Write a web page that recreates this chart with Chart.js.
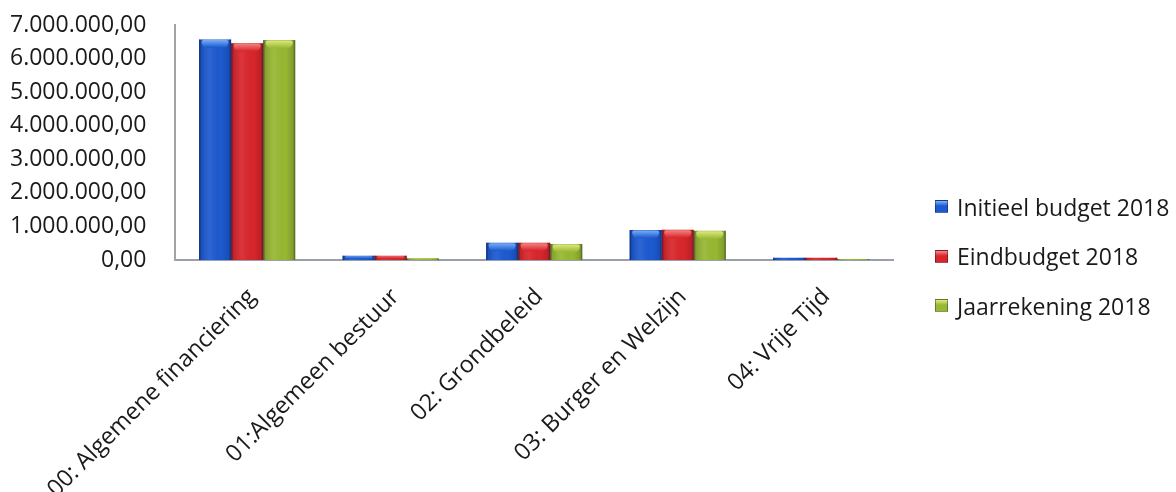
<!DOCTYPE html>
<html lang="nl">
<head>
<meta charset="utf-8">
<title>Budget 2018 per beleidsdomein</title>
<script src="https://cdn.jsdelivr.net/npm/chart.js@4.4.1/dist/chart.umd.min.js"></script>
<style>
  html, body { margin: 0; padding: 0; background: #ffffff; }
  #wrap { position: relative; width: 1176px; height: 492px; overflow: hidden; }
  #legend {
    position: absolute; left: 935px; top: 182px;
    font-family: 'Open Sans', sans-serif; font-size: 23px; color: #1a1a1a;
  }
  #legend .item { height: 49.5px; display: flex; align-items: center; white-space: nowrap; }
  #legend .box { width: 13px; height: 13px; margin-right: 9px; box-sizing: border-box; }
</style>
</head>
<body>
<div id="wrap">
  <canvas id="chart" width="1176" height="492"></canvas>
  <div id="legend"></div>
</div>
<script>
// Beleidsdomeinen (categorieën)
const categories = [
  '00: Algemene financiering',
  '01:Algemeen bestuur',
  '02: Grondbeleid',
  '03: Burger en Welzijn',
  '04: Vrije Tijd'
];

// Reeksen
const seriesNames = ['Initieel budget 2018', 'Eindbudget 2018', 'Jaarrekening 2018'];
const initieelBudget = [6570000, 130000, 515000, 895000, 70000];
const eindBudget     = [6460000, 130000, 515000, 900000, 70000];
const jaarrekening   = [6550000,  50000, 477000, 870000, 30000];

// Waardeas
const yTickValues = [0, 1000000, 2000000, 3000000, 4000000, 5000000, 6000000, 7000000];
const yTickLabels = ['0,00', '1.000.000,00', '2.000.000,00', '3.000.000,00',
                     '4.000.000,00', '5.000.000,00', '6.000.000,00', '7.000.000,00'];

// Stijl
const bodyColors = ['#1d5ad0', '#d8262b', '#97b832'];
const capColors  = ['#7fb4f6', '#f58a8a', '#e2ea84'];
const FONT = "'Open Sans', sans-serif";
const TEXT = '#1a1a1a';

// Glanzend, licht bol uiterlijk van de staven
const bevelBars = {
  id: 'bevelBars',
  afterDatasetsDraw(chart) {
    const ctx = chart.ctx;
    chart.data.datasets.forEach((ds, di) => {
      const meta = chart.getDatasetMeta(di);
      if (meta.hidden) return;
      meta.data.forEach(bar => {
        const p = bar.getProps(['x', 'y', 'base', 'width'], true);
        const left = p.x - p.width / 2;
        const top = Math.min(p.y, p.base);
        const h = Math.abs(p.base - p.y);
        if (h <= 0) return;
        ctx.save();
        const g = ctx.createLinearGradient(left, 0, left + p.width, 0);
        g.addColorStop(0, 'rgba(0,0,25,0.55)');
        g.addColorStop(0.07, 'rgba(0,0,25,0.12)');
        g.addColorStop(0.35, 'rgba(255,255,255,0.07)');
        g.addColorStop(0.7, 'rgba(0,0,0,0)');
        g.addColorStop(0.93, 'rgba(0,0,25,0.14)');
        g.addColorStop(1, 'rgba(0,0,25,0.5)');
        ctx.fillStyle = g;
        ctx.fillRect(left, top, p.width, h);

        const capH = Math.min(8, h * 0.6);
        if (capH > 1.5) {
          const cg = ctx.createLinearGradient(0, top, 0, top + capH);
          cg.addColorStop(0, capColors[di]);
          cg.addColorStop(1, bodyColors[di]);
          ctx.fillStyle = cg;
          ctx.beginPath();
          const inset = 2.5;
          ctx.roundRect(left + inset, top + 0.5, p.width - inset * 2, capH,
                        [2, 2, Math.min(6, capH), Math.min(6, capH)]);
          ctx.fill();
        }
        ctx.restore();
      });
    });
  }
};

const datasets = [initieelBudget, eindBudget, jaarrekening].map((values, i) => ({
  label: seriesNames[i],
  data: values,
  backgroundColor: bodyColors[i],
  borderWidth: 0,
  categoryPercentage: 0.67,
  barPercentage: 1.0
}));

const chart = new Chart(document.getElementById('chart'), {
  type: 'bar',
  data: { labels: categories, datasets },
  options: {
    responsive: false,
    animation: false,
    devicePixelRatio: 1,
    layout: { padding: { left: 10, right: 283, top: 25, bottom: 0 } },
    plugins: {
      legend: { display: false },
      tooltip: { enabled: false }
    },
    scales: {
      x: {
        afterFit(scale) {
          // vaste strook voor de schuine labels; ze mogen links buiten het plotvlak uitsteken
          scale.height = 232;
          scale.paddingLeft = 0;
          scale.paddingRight = 0;
        },
        ticks: {
          autoSkip: false,
          minRotation: 45,
          maxRotation: 45,
          padding: 23,
          labelOffset: 5,
          color: TEXT,
          font: { family: FONT, size: 23.5 }
        },
        grid: { display: false, drawTicks: false },
        border: { display: true, color: '#9aa0ab', width: 2 }
      },
      y: {
        min: 0,
        max: 7000000,
        afterBuildTicks(scale) {
          scale.ticks = yTickValues.map(v => ({ value: v }));
        },
        afterFit(scale) {
          // alleen ruimte tussen labels en as, niet aan de buitenkant
          scale.width -= scale.options.ticks.padding;
          scale.paddingTop = 0;
          scale.paddingBottom = 0;
        },
        ticks: {
          padding: 29,
          color: TEXT,
          font: { family: FONT, size: 23 },
          callback: (value) => yTickLabels[yTickValues.indexOf(value)]
        },
        grid: { display: false, drawTicks: false },
        border: { display: true, color: '#a3a3a3', width: 2 }
      }
    }
  },
  plugins: [bevelBars]
});

// Legende naast de grafiek, opgebouwd uit de datasets
const legendEl = document.getElementById('legend');
chart.data.datasets.forEach((ds, i) => {
  const item = document.createElement('div');
  item.className = 'item';
  const box = document.createElement('span');
  box.className = 'box';
  box.style.background = 'linear-gradient(' + capColors[i] + ' 0%, ' + bodyColors[i] + ' 45%, ' + bodyColors[i] + ' 100%)';
  box.style.border = '1px solid rgba(0,0,30,0.35)';
  const txt = document.createElement('span');
  txt.textContent = ds.label;
  item.appendChild(box);
  item.appendChild(txt);
  legendEl.appendChild(item);
});
</script>
</body>
</html>
